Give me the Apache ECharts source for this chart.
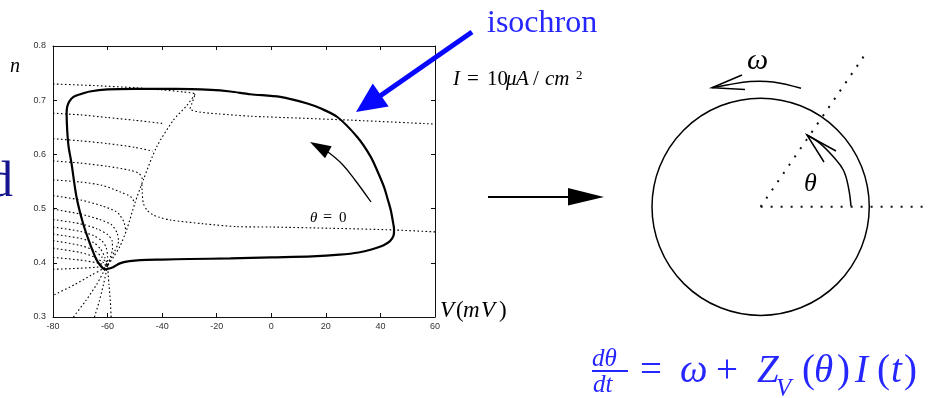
<!DOCTYPE html>
<html><head><meta charset="utf-8">
<script src="https://cdn.jsdelivr.net/npm/echarts@6/dist/echarts.min.js"></script>
<style>html,body{margin:0;padding:0;background:#fff}#c{width:929px;height:398px}</style>
</head><body><div id="c"></div>
<script>
// ---------- data (V in mV, n) ----------
const vTicks = [-80, -60, -40, -20, 0, 20, 40, 60];
const nTicks = [0.3, 0.4, 0.5, 0.6, 0.7, 0.8];

const limitCycle = [
  [-60.5,0.388],[-58,0.392],[-55.5,0.399],[-52,0.403],[-48,0.405],[-40,0.406],[-30,0.407],
  [-15,0.408],[0,0.410],[15,0.412],[25,0.415],[32,0.419],[37,0.425],[41,0.432],[43.5,0.440],
  [44.8,0.450],[45,0.461],[44.5,0.478],[43.8,0.497],[42.8,0.515],[41.3,0.540],[39,0.568],
  [36.4,0.596],[31.5,0.632],[24.2,0.669],[18,0.685],[13.2,0.694],[3.3,0.706],[-7.7,0.711],
  [-15,0.716],[-22,0.719],[-35,0.721],[-50,0.721],[-60,0.720],[-66.5,0.716],[-70,0.711],
  [-72.5,0.706],[-74,0.698],[-74.8,0.688],[-75,0.675],[-74.8,0.645],[-74.3,0.615],
  [-73.2,0.583],[-71.4,0.522],[-69,0.473],[-66.5,0.436],[-64,0.405],[-62.5,0.394],
  [-61.5,0.389],[-60.5,0.388]
];

const isoA = [[-80,0.730],[-65,0.727],[-50,0.723],[-40,0.719],[-32,0.715],[-28,0.711],
  [-29.1,0.694],[-29.8,0.684],[-26.1,0.678],[-20,0.675],[-7.7,0.6705],[10,0.667],[30,0.663],[60,0.656]];
const isoB = [[-80,0.676],[-70,0.673],[-60,0.668],[-50,0.663],[-39.6,0.657]];
const isoC = [[-80,0.629],[-70,0.625],[-60,0.620],[-50,0.613],[-43.5,0.606]];
const isoD = [[-80,0.588],[-70,0.584],[-60,0.578],[-52,0.571],[-48.5,0.565],[-47.2,0.555]];
const isoE = [[-80,0.553],[-70,0.549],[-62,0.543],[-55.5,0.531],[-51.5,0.522],[-50.3,0.513]];
const isoF = [[-80,0.524],[-70,0.516],[-62,0.505],[-57,0.495],[-55.5,0.488],[-54,0.475],[-53.4,0.462]];
const isoG = [[-80,0.499],[-70,0.490],[-63,0.480],[-58.5,0.470],[-56.5,0.455],[-56,0.440],[-57.5,0.420],[-60,0.395]];
const isoH = [[-80,0.480],[-70,0.472],[-64,0.463],[-60,0.452],[-58.3,0.440],[-58.2,0.425],[-59,0.410],[-60,0.395]];
const isoI = [[-80,0.466],[-70,0.458],[-65,0.450],[-62,0.440],[-60.5,0.428],[-60,0.410],[-60,0.395]];
const isoJ = [[-80,0.453],[-70,0.445],[-65,0.437],[-62.5,0.425],[-61,0.410],[-60,0.395]];
const isoK = [[-80,0.441],[-70,0.432],[-65,0.423],[-62,0.410],[-60,0.395]];
const isoL = [[-80,0.427],[-70,0.419],[-65,0.411],[-62,0.402],[-60,0.395]];
const isoM = [[-80,0.410],[-70,0.405],[-64,0.400],[-60,0.395]];
const isoN = [[-80,0.388],[-70,0.390],[-64,0.392],[-60,0.395]];
const isoO = [[-79.5,0.341],[-72,0.360],[-66,0.377],[-62,0.388],[-60,0.395]];
const isoP = [[-72.5,0.300],[-68,0.330],[-64,0.360],[-61.5,0.383],[-60,0.395]];
const isoQ = [[-64.8,0.300],[-63,0.330],[-61.5,0.360],[-60.5,0.383],[-60,0.395]];
const isoR = [[-58.7,0.300],[-59,0.330],[-59.5,0.360],[-60,0.395]];
const isoDiag = [[-27.9,0.711],[-31,0.690],[-35.9,0.663],[-42,0.614],[-46.9,0.553],[-50,0.510],
  [-53,0.461],[-55.5,0.430],[-57.9,0.410],[-60,0.395]];
const isoZero = [[60,0.457],[45,0.4606],[21.7,0.4637],[0,0.466],[-12.6,0.4667],[-24.9,0.472],
  [-37.1,0.479],[-41,0.484],[-43.2,0.488],[-45.5,0.497],[-46.9,0.510],[-47.3,0.530],[-47.5,0.550]];

// phase-circle schematic (unit circle coordinates)
const rayZero = [[0,0],[1.55,0]];
const rayTheta = [[0,0],[0.97,1.41]];

// ---------- chart ----------
const chart = echarts.init(document.getElementById('c'), null, {renderer:'canvas'});
const SERIF = '"Liberation Serif", "Times New Roman", serif';
const tickFont = {fontSize:9, color:'#333', fontFamily:'"Liberation Sans", Arial, sans-serif'};
const axBase = (extra) => Object.assign({
  type:'value', gridIndex:0, splitLine:{show:false},
  axisLine:{show:true, onZero:false, lineStyle:{color:'#111', width:1}},
  axisTick:{show:true, inside:true, length:4, lineStyle:{color:'#111'}}
}, extra);

const isoList = [isoA,isoB,isoC,isoD,isoE,isoF,isoG,isoH,isoI,isoJ,isoK,isoL,isoM,isoN,isoO,isoP,isoQ,isoR,isoDiag,isoZero];
const series = isoList.map(d => ({
  type:'line', xAxisIndex:0, yAxisIndex:0, data:d, showSymbol:false, symbol:'none',
  smooth:0.25, silent:true, z:2, lineStyle:{color:'#000', width:1.1, type:[1.6,2.4]}
}));
series.push({type:'line', xAxisIndex:0, yAxisIndex:0, data:limitCycle, showSymbol:false, symbol:'none',
  smooth:0.3, silent:true, z:3, lineStyle:{color:'#000', width:2.2}});
[rayZero, rayTheta].forEach(d => series.push({type:'line', xAxisIndex:2, yAxisIndex:2, data:d,
  showSymbol:false, symbol:'none', silent:true, clip:false, lineStyle:{color:'#111', width:2, type:[2,8]}}));

// unit circle grid: 109px per unit, centre at (761, 206.7)
chart.setOption({
  animation:false,
  backgroundColor:'#fff',
  grid:[
    {left:53, top:46, width:382, height:271},
    {left:652, top:52, width:278, height:263.8}
  ],
  xAxis:[
    axBase({position:'bottom', min:vTicks[0], max:vTicks[vTicks.length-1], interval:vTicks[1]-vTicks[0],
      axisLabel:Object.assign({margin:5}, tickFont)}),
    axBase({position:'top', min:vTicks[0], max:vTicks[vTicks.length-1], interval:vTicks[1]-vTicks[0],
      axisLabel:{show:false}}),
    {type:'value', gridIndex:1, min:-1, max:1.55, show:false}
  ],
  yAxis:[
    axBase({position:'left', min:nTicks[0], max:nTicks[nTicks.length-1], interval:0.1,
      axisLabel:Object.assign({margin:7, formatter:v=>v.toFixed(1)}, tickFont)}),
    axBase({position:'right', min:nTicks[0], max:nTicks[nTicks.length-1], interval:0.1,
      axisLabel:{show:false}}),
    {type:'value', gridIndex:1, min:-1, max:1.42, show:false}
  ],
  series
});

// ---------- annotations ----------
function T(text, x, base, size, o){
  o = o || {};
  const font = (o.italic ? 'italic ' : '') + size + 'px ' + (o.family || SERIF);
  return {type:'text', x:x, y:base - 0.3*size, z:10, silent:true,
    style:{text:text, font:font, fill:o.color||'#000', align:o.align||'left', verticalAlign:'middle',
      textAlign:o.align||'left', textVerticalAlign:'middle'}};
}
function head(tip, from, len, half, color){
  const dx=tip[0]-from[0], dy=tip[1]-from[1], L=Math.hypot(dx,dy), ux=dx/L, uy=dy/L;
  const bx=tip[0]-ux*len, by=tip[1]-uy*len;
  return {type:'polygon', z:10, silent:true, shape:{points:[tip,[bx-uy*half,by+ux*half],[bx+uy*half,by-ux*half]]}, style:{fill:color}};
}
const g = [];
const BLUE = '#2626ff';
// left stray letter
g.push(T('d', 13, 198, 50, {color:'#14148c', align:'right'}));
// axis names
g.push(T('n', 10, 73, 20, {italic:true}));
[['V',440,1],['(',456,0],['m',463,1],['V',481,1],[')',499,0]].forEach(p=>g.push(T(p[0],p[1],318,23,{italic:!!p[2]})));
// I = 10 uA/cm^2
[['I',453,1],['=',467,0],['10',487,0],['μ',506,1],['A',516,1],['/',533,0],['cm',545,1]].forEach(p=>g.push(T(p[0],p[1],86,21,{italic:!!p[2]})));
g.push(T('2',576,79,13));
// isochron label + blue arrow
g.push(T('isochron', 487, 33, 32, {color:BLUE}));
g.push({type:'line', z:10, silent:true, shape:{x1:472,y1:32,x2:380,y2:96}, style:{stroke:'#0808ff', lineWidth:5}});
g.push(head([356,112],[472,32],30,14,'#0808ff'));
// theta = 0 label
g.push(T('θ',310,223,15,{italic:true}));
g.push(T('=',323,223,16));
g.push(T('0',339,223,15));
// arrow inside plot
g.push({type:'polyline', z:10, silent:true, shape:{points:[[371,202],[355,180],[342,164],[328,152]], smooth:0.4}, style:{stroke:'#000', lineWidth:1.3, fill:null}});
g.push(head([310,142],[328,152],21,6.8,'#000'));
// middle arrow
g.push({type:'line', z:10, silent:true, shape:{x1:488,y1:197,x2:572,y2:197}, style:{stroke:'#000', lineWidth:1.8}});
g.push({type:'polygon', z:10, silent:true, shape:{points:[[568,188],[604,197],[568,205.5]]}, style:{fill:'#000'}});
// circle
const c0 = chart.convertToPixel({gridIndex:1}, [0,0]);
const c1 = chart.convertToPixel({gridIndex:1}, [1,0]);
g.push({type:'circle', z:10, silent:true, shape:{cx:c0[0], cy:c0[1], r:c1[0]-c0[0]}, style:{stroke:'#000', lineWidth:1.5, fill:null}});
// theta arc with open arrow
g.push({type:'polyline', z:10, silent:true, shape:{points:[[851,206],[848.3,186.7],[843.3,170],[833.3,156.7],[820,143.3],[807,135]], smooth:0.4}, style:{stroke:'#000', lineWidth:1.5, fill:null}});
g.push({type:'polyline', z:10, silent:true, shape:{points:[[836,151],[807,135],[824,162]]}, style:{stroke:'#000', lineWidth:1.5, fill:null}});
g.push(T('θ',804,192,26,{italic:true}));
// omega arc with open arrow
g.push({type:'polyline', z:10, silent:true, shape:{points:[[801,88.3],[773,82],[750,81.5],[727,85],[712,87.7]], smooth:0.4}, style:{stroke:'#000', lineWidth:1.5, fill:null}});
g.push({type:'polyline', z:10, silent:true, shape:{points:[[742,75],[712,87.7],[745,89.5]]}, style:{stroke:'#000', lineWidth:1.5, fill:null}});
g.push(T('ω',747,70,30,{italic:true}));
// formula
g.push(T('dθ',592,367,25,{italic:true,color:BLUE}));
g.push({type:'line', z:10, silent:true, shape:{x1:592,y1:371,x2:628,y2:371}, style:{stroke:BLUE, lineWidth:2}});
g.push(T('dt',593,393,25,{italic:true,color:BLUE}));
[['=',640,0],['ω',680,1],['+',716,0],['Z',757,1],['(',802,0],['θ',814,1],[')',837,0],['I',855,1],['(',877,0],['t',891,1],[')',904,0]]
  .forEach(p=>g.push(T(p[0],p[1],383,39,{italic:!!p[2],color:BLUE})));
g.push(T('V',776,397,25,{italic:true,color:BLUE}));

chart.setOption({graphic:{elements:g}});
</script></body></html>
